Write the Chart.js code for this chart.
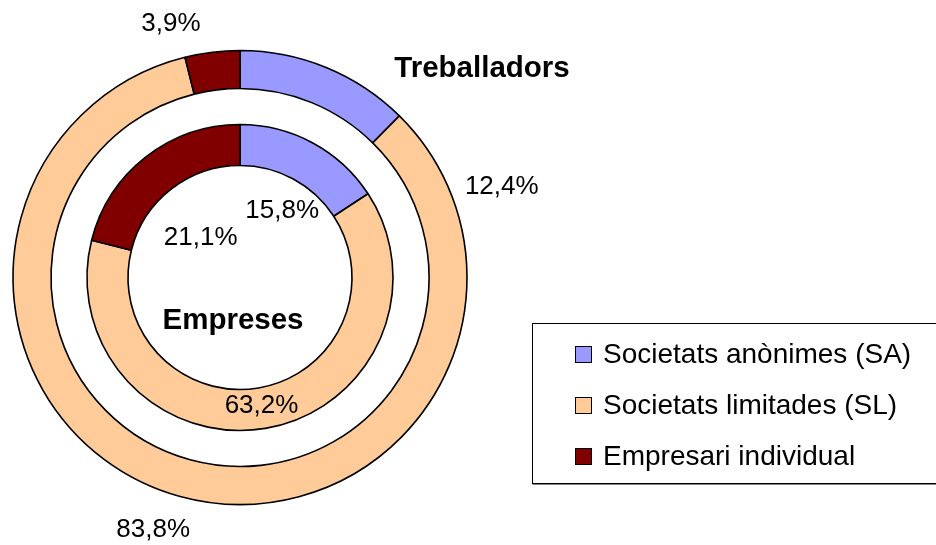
<!DOCTYPE html>
<html>
<head>
<meta charset="utf-8">
<script src="https://cdn.jsdelivr.net/npm/chart.js@4/dist/chart.umd.min.js"></script>
<style>
html,body{margin:0;padding:0;background:#fff;overflow:hidden;}
canvas{display:block;}
</style>
</head>
<body>
<canvas id="c" width="936" height="545"></canvas>
<script>
// ---- data ----
const categories = ['Societats anònimes (SA)', 'Societats limitades (SL)', 'Empresari individual'];
const treballadors = [12.4, 83.8, 3.9];   // outer ring
const empreses = [15.8, 63.2, 21.1];      // inner ring
const ringTitles = ['Treballadors', 'Empreses'];

// ---- styles ----
const colors = ['#9999FF', '#FFCC99', '#800000'];
const FONT = "'Liberation Sans', Arial, sans-serif";
// label placement: radius from centre (px) and angle shift (deg) from slice middle
const labelPlacement = {
  0: [{r: 277, d: 48.6}, {r: 267, d: 3.7}, {r: 263, d: -8.2}],
  2: [{r: 79, d: 3.9}, {r: 130, d: 0}, {r: 56, d: -6.6}]
};

const fmt = v => v.toFixed(1).replace('.', ',') + '%';

const decorPlugin = {
  id: 'decor',
  afterDatasetsDraw(chart) {
    const ctx = chart.ctx;
    ctx.save();
    // percentage labels
    ctx.fillStyle = '#000';
    ctx.textAlign = 'center';
    ctx.textBaseline = 'middle';
    ctx.font = '26px ' + FONT;
    Object.keys(labelPlacement).forEach(di => {
      const meta = chart.getDatasetMeta(+di);
      const ds = chart.data.datasets[+di];
      meta.data.forEach((arc, i) => {
        const p = arc.getProps(['x', 'y', 'startAngle', 'endAngle'], true);
        const pl = labelPlacement[di][i];
        const a = (p.startAngle + p.endAngle) / 2 + pl.d * Math.PI / 180;
        ctx.fillText(fmt(ds.data[i]), p.x + pl.r * Math.cos(a), p.y + pl.r * Math.sin(a));
      });
    });
    // ring titles
    const m0 = chart.getDatasetMeta(0).data[0];
    const cx = m0.x, cy = m0.y;
    ctx.font = 'bold 29.5px ' + FONT;
    ctx.fillText(ringTitles[0], cx + 242, cy - 209);
    ctx.fillText(ringTitles[1], cx - 7, cy + 43);

    // legend
    const lx = 532.5, ly = 323.5, lw = 420, lh = 160;
    ctx.fillStyle = '#fff';
    ctx.fillRect(lx, ly, lw, lh);
    ctx.strokeStyle = '#000';
    ctx.lineWidth = 1;
    ctx.strokeRect(lx, ly, lw, lh);
    ctx.strokeStyle = '#808080';
    ctx.beginPath(); ctx.moveTo(lx, ly + lh + 1); ctx.lineTo(lx + lw, ly + lh + 1); ctx.stroke();
    ctx.textAlign = 'left';
    ctx.font = '28px ' + FONT;
    chart.data.labels.forEach((lab, i) => {
      const yc = 355 + i * 51;
      ctx.fillStyle = chart.data.datasets[0].backgroundColor[i];
      ctx.fillRect(575.5, yc - 8.5, 16, 16);
      ctx.strokeStyle = '#000';
      ctx.strokeRect(575.5, yc - 8.5, 16, 16);
      ctx.fillStyle = '#000';
      ctx.fillText(lab, 603, yc);
    });
    ctx.restore();
  }
};

new Chart(document.getElementById('c'), {
  type: 'doughnut',
  data: {
    labels: categories,
    datasets: [
      {label: ringTitles[0], data: treballadors, backgroundColor: colors, borderColor: '#000', borderWidth: 1.6, weight: 38},
      {label: 'spacer', data: [1], backgroundColor: ['rgba(0,0,0,0)'], borderWidth: 0, weight: 36},
      {label: ringTitles[1], data: empreses, backgroundColor: colors, borderColor: '#000', borderWidth: 1.6, weight: 41}
    ]
  },
  options: {
    responsive: false,
    animation: false,
    events: [],
    radius: 227,
    cutout: '49.34%',
    layout: {padding: {left: 0, right: 456, top: 10, bottom: 0}},
    plugins: {legend: {display: false}, tooltip: {enabled: false}, title: {display: false}}
  },
  plugins: [decorPlugin]
});
</script>
</body>
</html>
